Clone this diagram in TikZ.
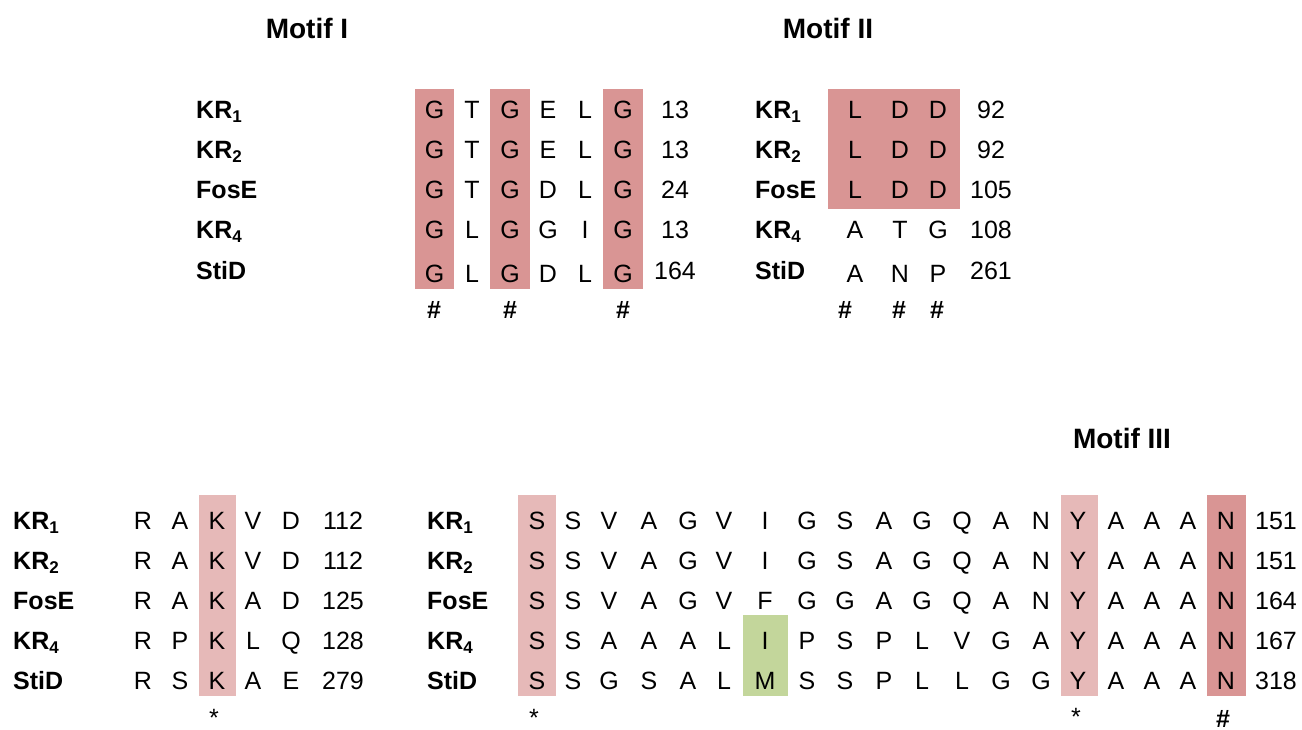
\documentclass[tikz,border=0pt]{standalone}
\usepackage{fontspec}
\setmainfont{Liberation Sans}
\definecolor{hldark}{HTML}{D99594}
\definecolor{hllight}{HTML}{E6B9B8}
\definecolor{hlgreen}{HTML}{C3D69B}
\newcommand\krlab[1]{KR\raisebox{-4pt}{\fontsize{17}{17}\selectfont #1}}
\newcommand\seqrow[4]{%
  \foreach \l [count=\c] in {#4} {%
    \pgfmathsetmacro\xx{#2[\c-1]}%
    \node[res] (#1-\c) at (\xx,#3) {\l};
  }}
\begin{document}
\begin{tikzpicture}[x=1pt,y=-1pt,
  res/.style={inner sep=0pt,anchor=base,font=\fontsize{25}{30}\selectfont},
  hashmark/.style={inner sep=0pt,anchor=base,font=\fontsize{25}{30}\selectfont\bfseries},
  numlab/.style={inner sep=0pt,anchor=base,font=\fontsize{25}{30}\selectfont},
  rowlab/.style={inner sep=0pt,anchor=base west,font=\fontsize{25}{30}\selectfont\bfseries},
  title/.style={inner sep=0pt,anchor=base,font=\fontsize{28}{32}\selectfont\bfseries}]
\useasboundingbox (0,0) rectangle (1302,729);
\fill[white] (0,0) rectangle (1302,729);

% ---------- highlight boxes ----------
\fill[hldark] (415,89) rectangle (454,289);
\fill[hldark] (490,89) rectangle (530,289);
\fill[hldark] (603,89) rectangle (643,289);
\fill[hldark] (828,89) rectangle (960,209);
\fill[hllight] (199,495) rectangle (236,696);
\fill[hllight] (518,495) rectangle (556,696);
\fill[hlgreen] (743,615) rectangle (788,696);
\fill[hllight] (1061,495) rectangle (1098,696);
\fill[hldark] (1207,495) rectangle (1246,696);

% ---------- titles ----------
\node[title] (t1) at (307,38) {Motif I};
\node[title] (t2) at (828,38) {Motif II};
\node[title] (t3) at (1122,448) {Motif III};

% ---------- Motif I ----------
\def\colsA{{434.5,472,510,548,585,623}}
\foreach \lab/\y/\n in {{\krlab{1}}/118/1,{\krlab{2}}/158/2,FosE/198/3,{\krlab{4}}/238/4,StiD/279/5}
  \node[rowlab] (la-\n) at (196,\y) {\lab};
\seqrow{ma1}{\colsA}{118}{G,T,G,E,L,G}
\seqrow{ma2}{\colsA}{158}{G,T,G,E,L,G}
\seqrow{ma3}{\colsA}{198}{G,T,G,D,L,G}
\seqrow{ma4}{\colsA}{238}{G,L,G,G,I,G}
\seqrow{ma5}{\colsA}{282}{G,L,G,D,L,G}
\foreach \n/\y/\t in {1/118/13,2/158/13,3/198/24,4/238/13,5/279/164}
  \node[numlab] (na-\n) at (675,\y) {\t};
\foreach \x [count=\c] in {434,510,623}
  \node[hashmark] (ha-\c) at (\x,318) {\#};

% ---------- Motif II ----------
\def\colsB{{855,900,938}}
\foreach \lab/\y/\n in {{\krlab{1}}/118/1,{\krlab{2}}/158/2,FosE/198/3,{\krlab{4}}/238/4,StiD/279/5}
  \node[rowlab] (lb-\n) at (755,\y) {\lab};
\seqrow{mb1}{\colsB}{118}{L,D,D}
\seqrow{mb2}{\colsB}{158}{L,D,D}
\seqrow{mb3}{\colsB}{198}{L,D,D}
\seqrow{mb4}{\colsB}{238}{A,T,G}
\seqrow{mb5}{\colsB}{282}{A,N,P}
\foreach \n/\y/\t in {1/118/92,2/158/92,3/198/105,4/238/108,5/279/261}
  \node[numlab] (nb-\n) at (991,\y) {\t};
\foreach \x [count=\c] in {845,899,937}
  \node[hashmark] (hb-\c) at (\x,318) {\#};

% ---------- lower left block ----------
\def\colsC{{143,180,217,253,291}}
\foreach \lab/\y/\n in {{\krlab{1}}/529/1,{\krlab{2}}/569/2,FosE/609/3,{\krlab{4}}/649/4,StiD/689/5}
  \node[rowlab] (lc-\n) at (13,\y) {\lab};
\seqrow{mc1}{\colsC}{529}{R,A,K,V,D}
\seqrow{mc2}{\colsC}{569}{R,A,K,V,D}
\seqrow{mc3}{\colsC}{609}{R,A,K,A,D}
\seqrow{mc4}{\colsC}{649}{R,P,K,L,Q}
\seqrow{mc5}{\colsC}{689}{R,S,K,A,E}
\foreach \n/\y/\t in {1/529/112,2/569/112,3/609/125,4/649/128,5/689/279}
  \node[numlab] (nc-\n) at (343,\y) {\t};
\node[res] (sc-1) at (214,726) {*};

% ---------- lower right block (Motif III) ----------
\def\colsD{{537,573,609,649,688,724,765,807,845,884,922,962,1001,1041,1078,1116,1152,1188,1226}}
\foreach \lab/\y/\n in {{\krlab{1}}/529/1,{\krlab{2}}/569/2,FosE/609/3,{\krlab{4}}/649/4,StiD/689/5}
  \node[rowlab] (ld-\n) at (427,\y) {\lab};
\seqrow{md1}{\colsD}{529}{S,S,V,A,G,V,I,G,S,A,G,Q,A,N,Y,A,A,A,N}
\seqrow{md2}{\colsD}{569}{S,S,V,A,G,V,I,G,S,A,G,Q,A,N,Y,A,A,A,N}
\seqrow{md3}{\colsD}{609}{S,S,V,A,G,V,F,G,G,A,G,Q,A,N,Y,A,A,A,N}
\seqrow{md4}{\colsD}{649}{S,S,A,A,A,L,I,P,S,P,L,V,G,A,Y,A,A,A,N}
\seqrow{md5}{\colsD}{689}{S,S,G,S,A,L,M,S,S,P,L,L,G,G,Y,A,A,A,N}
\foreach \n/\y/\t in {1/529/151,2/569/151,3/609/164,4/649/167,5/689/318}
  \node[numlab] (nd-\n) at (1276,\y) {\t};
\node[res] (sd-1) at (534,726) {*};
\node[res] (sd-2) at (1076,725) {*};
\node[hashmark] (hd-1) at (1223,727) {\#};
\end{tikzpicture}
\end{document}
